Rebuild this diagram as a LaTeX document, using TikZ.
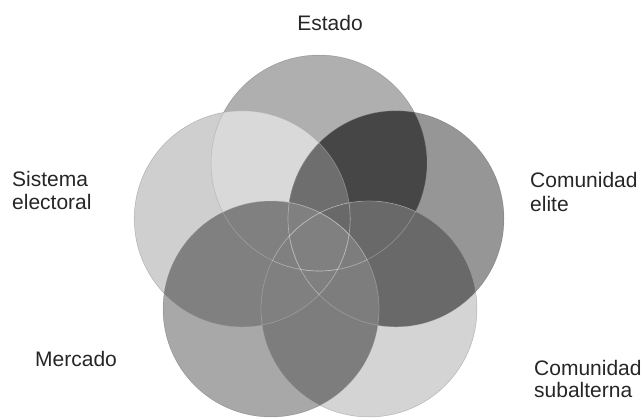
\documentclass[tikz,border=0pt]{standalone}
\usepackage{fontspec}
\setmainfont{Liberation Sans}
\definecolor{cT}{gray}{0.686}
\definecolor{cL}{gray}{0.812}
\definecolor{cTL}{gray}{0.851}
\definecolor{cR}{gray}{0.588}
\definecolor{cTR}{gray}{0.275}
\definecolor{cLR}{gray}{0.431}
\definecolor{cBL}{gray}{0.659}
\definecolor{cBR}{gray}{0.831}
\definecolor{cRBR}{gray}{0.412}
\definecolor{cBLL}{gray}{0.502}
\definecolor{cBLBR}{gray}{0.49}
\tikzset{
  lbl/.style={font=\fontsize{21}{25}\selectfont, inner sep=0pt, text=black!85},
  rim/.style={draw=black, draw opacity=0.2, line width=0.5pt},
  seam/.style={draw=white, draw opacity=0.18, line width=0.7pt}
}
\begin{document}
\begin{tikzpicture}[x=1pt,y=-1pt]
\useasboundingbox (0,0) rectangle (644,417);
\def\rr{108pt}
\coordinate (T) at (319,163);
\coordinate (L) at (242.2,218.8);
\coordinate (R) at (396,218.8);
\coordinate (BL) at (271,309);
\coordinate (BR) at (369,309);
% base circles and overlaps
\fill[cT] (T) circle[radius=\rr];
\fill[cL] (L) circle[radius=\rr];
\begin{scope}\clip (T) circle[radius=\rr]; \fill[cTL] (L) circle[radius=\rr];\end{scope}
\fill[cR] (R) circle[radius=\rr];
\begin{scope}\clip (T) circle[radius=\rr]; \fill[cTR] (R) circle[radius=\rr];\end{scope}
\begin{scope}\clip (L) circle[radius=\rr]; \fill[cLR] (R) circle[radius=\rr];\end{scope}
\fill[cBL] (BL) circle[radius=\rr];
\fill[cBR] (BR) circle[radius=\rr];
\begin{scope}\clip (R) circle[radius=\rr]; \fill[cRBR] (BR) circle[radius=\rr];\end{scope}
\begin{scope}\clip (BL) circle[radius=\rr]; \fill[cBLBR] (BR) circle[radius=\rr];\end{scope}
\begin{scope}\clip (BL) circle[radius=\rr]; \fill[cBLL] (L) circle[radius=\rr];\end{scope}
% outlines
\foreach \c in {T,L,R,BL,BR}{\draw[rim] (\c) circle[radius=\rr];}
\foreach \c in {T,L,R,BL,BR}{
  \foreach \d in {T,L,R,BL,BR}{
    \ifx\c\d\else
    \begin{scope}\clip (\d) circle[radius=\rr]; \draw[seam] (\c) circle[radius=\rr];\end{scope}
    \fi
  }
}
% labels
\node[lbl, anchor=base] (estado) at (330,31) {Estado};
\node[lbl, anchor=base west] (sis1) at (12,186) {Sistema};
\node[lbl, anchor=base west] (sis2) at (12,209) {electoral};
\node[lbl, anchor=base west] (eli1) at (530,187) {Comunidad};
\node[lbl, anchor=base west] (eli2) at (530,211) {elite};
\node[lbl, anchor=base west] (mer) at (35,366) {Mercado};
\node[lbl, anchor=base west] (sub1) at (534,375) {Comunidad};
\node[lbl, anchor=base west] (sub2) at (534,397) {subalterna};
\end{tikzpicture}
\end{document}
